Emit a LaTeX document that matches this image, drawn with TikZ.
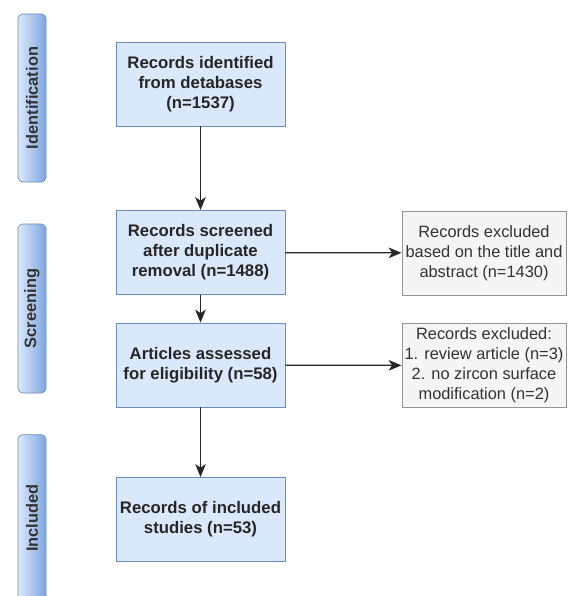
\documentclass[tikz,border=0pt]{standalone}
\usepackage{fontspec}
\setmainfont{Liberation Sans}
\usetikzlibrary{arrows.meta}
\definecolor{boxfill}{HTML}{DAE8FC}
\definecolor{boxline}{HTML}{6C8EBF}
\definecolor{barfill}{HTML}{7EA6E0}
\definecolor{exfill}{HTML}{F5F5F5}
\definecolor{exline}{HTML}{666666}
\definecolor{extext}{HTML}{333333}
\begin{document}
\begin{tikzpicture}[x=0.03cm,y=-0.03cm,
    every node/.style={inner sep=1.5pt,align=center,font=\fontsize{14}{17}\selectfont},
    stagebox/.style={draw=boxline,line width=0.8pt,fill=boxfill,text=black!85,font=\fontsize{14.3}{17}\selectfont\bfseries,minimum width=5.07cm,minimum height=2.52cm},
    exbox/.style={draw=exline!70,line width=0.8pt,fill=exfill,text=extext,minimum width=4.92cm,minimum height=2.52cm},
    phasebar/.style={draw=boxline,line width=0.6pt,rounded corners=4pt,left color=boxfill,right color=barfill,minimum width=0.84cm,inner sep=0pt},
    phase/.style={rotate=90,text=extext,font=\fontsize{14}{17}\selectfont\bfseries},
    flow/.style={-{Stealth[length=11pt,width=9pt,inset=3pt]},line width=1.1pt,black!85}]
        \useasboundingbox (0,0) rectangle (567,596);
        \clip (0,0) rectangle (567,596);
        \node[phasebar,minimum height=5.04cm] (bid)  at (32,98)    {};
        \node[phasebar,minimum height=5.07cm] (bscr) at (32,308.5) {};
        \node[phasebar,minimum height=5.0cm]  (binc) at (32,518)   {};
        \node[phase] (pid)  at (bid)  {Identification};
        \node[phase] (pscr) at (bscr) {Screening};
        \node[phase] (pinc) at (binc) {Included};
        \node[stagebox] (ident)  at (200.5,84)    {Records identified\\from detabases\\(n=1537)};
        \node[stagebox] (screen) at (200.5,252.5) {Records screened\\after duplicate\\removal (n=1488)};
        \node[stagebox] (assess) at (200.5,365)   {Articles assessed\\for eligibility (n=58)};
        \node[stagebox] (incl)   at (200.5,519.5) {Records of included\\studies (n=53)};
        \node[exbox] (excl1) at (484,253)   {Records excluded\\based on the title and\\abstract (n=1430)};
        \node[exbox] (excl2) at (484,365.5) {Records excluded:\\1. review article (n=3)\\2. no zircon surface\\modification (n=2)};
        \draw[flow] (ident)--(screen);
        \draw[flow] (screen)--(assess);
        \draw[flow] (assess)--(incl);
        \draw[flow] (screen)--(excl1);
        \draw[flow] (assess)--(excl2);
    \end{tikzpicture}
\end{document}
